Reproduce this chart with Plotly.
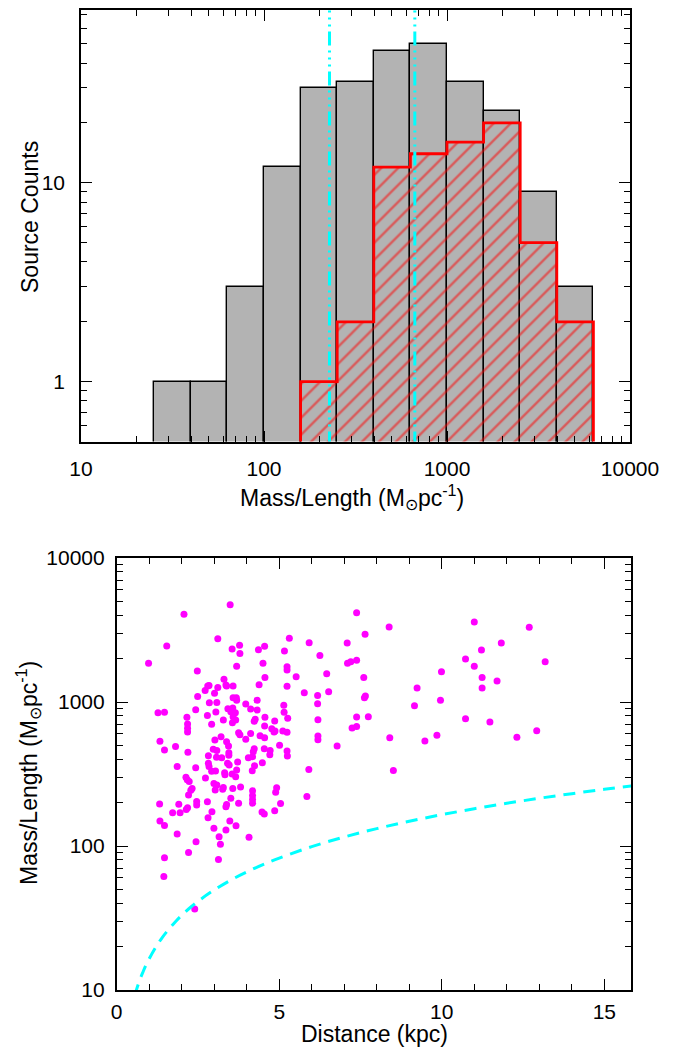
import plotly.graph_objects as go

# ---------------- data: top histogram ----------------
bin_edges = [25.12, 39.81, 63.10, 100.0, 158.5, 251.2, 398.1, 631.0,
             1000.0, 1585.0, 2512.0, 3981.0, 6310.0]
all_counts = [1, 1, 3, 12, 30, 32, 46, 50, 32, 23, 9, 3]
sub_counts = [None, None, None, None, 1, 2, 12, 14, 16, 20, 5, 2]
median_lines = [228, 667]

# ---------------- data: bottom scatter ----------------
dist = [2.07, 3.49, 1.54, 0.98, 3.11, 3.55, 3.78, 3.79, 3.69, 2.48, 4.36, 4.55, 4.50, 4.56, 4.38,
        5.16, 5.31, 5.24, 5.24, 5.52, 5.92, 6.25, 6.46, 6.52, 5.77, 6.18, 6.18, 7.09, 7.10, 7.20,
        7.38, 7.38, 7.64, 7.60, 7.62, 7.65, 8.38, 8.40, 8.51, 7.74, 7.38, 7.38, 7.24, 6.78, 6.19,
        6.19, 6.19, 5.91, 5.85, 5.24,
        2.49, 2.72, 2.80, 2.84, 3.01, 3.11, 3.30, 3.36, 3.38, 3.58, 3.58, 3.68, 3.69, 3.97, 4.12,
        4.32, 2.85, 3.08, 2.43, 1.27, 1.47, 2.16, 2.18, 2.18, 2.18, 2.79, 3.05, 2.92, 3.42, 3.57,
        3.51, 3.65, 3.58, 3.56, 3.66, 3.28, 4.26, 4.23, 4.56, 4.55, 4.32, 4.86, 4.77, 4.87, 4.84,
        5.14, 5.15, 5.26, 5.11, 5.24, 5.01, 5.24, 5.25, 3.75, 3.79, 4.12, 3.97, 4.41, 4.55, 3.21,
        3.38, 3.44, 3.02, 2.97, 3.08, 3.45, 3.45, 4.23, 4.20, 4.54, 4.72, 4.71, 4.05, 4.18, 3.07,
        3.23, 2.82, 2.84, 2.92, 3.04, 3.41, 3.46, 3.72, 3.69, 3.32, 3.33, 3.55, 3.66, 4.24, 4.48,
        4.17, 2.73, 2.43, 2.19, 1.81, 1.47, 1.33, 1.86, 2.13, 2.17, 2.23, 2.32, 2.28, 2.21, 2.46,
        2.46, 2.79, 2.93, 2.81, 2.99, 3.08, 3.03, 3.28, 3.26, 3.57, 3.81, 3.51, 3.38, 3.36, 3.75,
        4.18, 4.18, 4.18, 4.18, 4.92, 4.89, 5.04, 4.86, 4.47, 4.54, 1.32, 1.91, 2.14, 2.18, 1.72,
        1.95, 1.33, 1.47, 2.99, 3.36, 3.48, 3.67, 2.82,
        1.86, 2.44, 2.21, 1.47, 1.45, 2.40, 3.13, 3.19, 3.15, 4.07,
        9.24, 9.16, 9.48, 9.85, 9.96, 9.99, 10.73, 11.00, 11.22, 11.00, 11.24, 11.24, 10.73, 11.48,
        11.70, 11.83, 12.31, 12.69, 12.92, 13.18]
mass = [4060, 4740, 2450, 1860, 2750, 2330, 2480, 2170, 1770, 1640, 2310, 2440, 1860, 1480, 1320,
        2260, 2770, 1760, 1670, 1500, 2580, 2100, 1570, 1180, 1160, 1110, 973, 2570, 1860, 1900,
        1950, 4170, 2950, 1480, 1070, 1100, 3320, 565, 335, 791, 787, 677, 659, 494, 754,
        580, 547, 340, 221, 1285,
        1090, 1200, 1290, 1300, 1150, 1260, 1440, 1310, 1290, 1290, 1070, 1070, 1030, 968, 893,
        1030, 988, 994, 885, 843, 848, 783, 703, 656, 619, 807, 853, 700, 899, 908,
        857, 843, 791, 718, 750, 750, 758, 735, 783, 681, 880, 738, 653, 630, 619,
        948, 848, 771, 630, 616, 500, 457, 422, 612, 593, 605, 551, 583, 565, 574,
        530, 494, 544, 469, 461, 445, 427, 474, 452, 474, 461, 431, 410, 417, 413,
        410, 375, 356, 330, 332, 375, 365, 383, 337, 323, 313, 316, 303, 361, 379,
        333, 297, 350, 447, 490, 465, 533, 357, 300, 289, 281, 251, 244, 226, 204,
        193, 203, 173, 157, 272, 265, 245, 255, 248, 251, 257, 215, 194, 187, 198,
        242, 224, 210, 198, 254, 236, 197, 176, 172, 167, 196, 195, 179, 184, 170,
        170, 149, 139, 133, 129, 149, 138, 424,
        121, 107, 90, 83, 61.5, 36.5, 80.7, 103, 116, 115,
        1250, 943, 536, 587, 1030, 1620, 1990, 3590, 2300, 1770, 1480, 1250, 766, 726,
        1400, 2570, 569, 3300, 632, 1900]

limit_dist = [0.55, 0.6, 0.7, 0.8, 0.9, 1.0, 1.2, 1.4, 1.6, 1.8, 2.0, 2.3, 2.6, 3.0, 3.5,
              4.0, 4.5, 5.0, 6.0, 7.0, 8.0, 9.0, 10.0, 11.0, 12.0, 13.0, 14.0, 15.0, 15.9]
limit_mass = [9.1, 9.9, 11.6, 13.2, 14.9, 16.5, 19.8, 23.1, 26.4, 29.7, 33.0, 38.0, 42.9, 49.5, 57.8,
              66.0, 74.3, 82.5, 99.0, 115.5, 132.0, 148.5, 165.0, 181.5, 198.0, 214.5, 231.0, 247.5, 262.0]

# ---------------- build figure ----------------
FONT = "Liberation Sans, Arial, Helvetica, sans-serif"
W, H = 679, 1048

fig = go.Figure()

lefts = bin_edges[:-1]
widths = [bin_edges[i + 1] - bin_edges[i] for i in range(len(lefts))]

fig.add_trace(go.Bar(x=lefts, y=all_counts, width=widths, offset=0,
                     marker=dict(color="#b3b3b3", line=dict(color="black", width=1.4)),
                     xaxis="x", yaxis="y", showlegend=False))
fig.add_trace(go.Bar(x=lefts, y=sub_counts, width=widths, offset=0,
                     marker=dict(color="rgba(0,0,0,0)", line=dict(width=0),
                                 pattern=dict(shape="/", fgcolor="#ff0000", size=12, solidity=0.2)),
                     xaxis="x", yaxis="y", showlegend=False))

# red step outline of subset histogram
floor = 0.3
idx = [i for i, c in enumerate(sub_counts) if c]
sx = [bin_edges[idx[0]]]
sy = [floor]
for i in idx:
    sx.append(bin_edges[i])
    sy.append(sub_counts[i])
sx.append(bin_edges[idx[-1] + 1]); sy.append(sub_counts[idx[-1]])
sx.append(bin_edges[idx[-1] + 1]); sy.append(floor)
fig.add_trace(go.Scatter(x=sx, y=sy, mode="lines", line=dict(color="red", width=2.8, shape="hv"),
                         xaxis="x", yaxis="y", showlegend=False, hoverinfo="skip"))

for m in median_lines:
    fig.add_trace(go.Scatter(x=[m, m], y=[0.3, 200], mode="lines",
                             line=dict(color="#00ffff", width=3,
                                       dash="14px,5px,2px,5px,2px,5px,2px,5px"),
                             xaxis="x", yaxis="y", showlegend=False, hoverinfo="skip"))

fig.add_trace(go.Scatter(x=dist, y=mass, mode="markers",
                         marker=dict(color="#ff00ff", size=7, line=dict(width=0)),
                         xaxis="x2", yaxis="y2", showlegend=False))
fig.add_trace(go.Scatter(x=limit_dist, y=limit_mass, mode="lines",
                         line=dict(color="#00ffff", width=3, dash="12px,8px", shape="spline"),
                         xaxis="x2", yaxis="y2", showlegend=False))

def minor_log(decades, lo=2, hi=9):
    out = []
    for d in decades:
        for k in range(lo, hi + 1):
            out.append(k * d)
    return out

axis_common = dict(showline=True, linecolor="black", linewidth=1.6, mirror="ticks",
                   ticks="inside", tickcolor="black", tickwidth=1.4, ticklen=11,
                   showgrid=False, zeroline=False, automargin=False,
                   tickfont=dict(family=FONT, size=21, color="black"))
minor_common = dict(ticks="inside", ticklen=6, tickwidth=1.2, tickcolor="black", showgrid=False)

fig.update_layout(
    width=W, height=H, margin=dict(l=0, r=0, t=0, b=0),
    paper_bgcolor="white", plot_bgcolor="white", barmode="overlay", bargap=0,
    xaxis=dict(**axis_common, type="log", range=[1, 4],
               domain=[81 / W, 630 / W], anchor="y",
               tickmode="array", tickvals=[10, 100, 1000, 10000],
               ticktext=["10", "100", "1000", "10000"], ticklabelstandoff=7,
               minor=dict(**minor_common, tickmode="array",
                          tickvals=minor_log([10, 100, 1000]))),
    yaxis=dict(**axis_common, type="log", range=[-0.30103, 1.869],
               domain=[1 - 441.5 / H, 1 - 10 / H], anchor="x",
               tickmode="array", tickvals=[1, 10], ticktext=["1", "10"], ticklabelstandoff=10,
               minor=dict(**minor_common, tickmode="array",
                          tickvals=[0.5, 0.6, 0.7, 0.8, 0.9] + minor_log([1, 10], 2, 9))),
    xaxis2=dict(**axis_common, type="linear", range=[0, 15.82],
                domain=[116.7 / W, 631 / W], anchor="y2",
                tickmode="array", tickvals=[0, 5, 10, 15], ticktext=["0", "5", "10", "15"],
                ticklabelstandoff=2,
                minor=dict(**minor_common, tickmode="linear", tick0=0, dtick=1)),
    yaxis2=dict(**axis_common, type="log", range=[1, 4],
                domain=[1 - 990 / H, 1 - 558 / H], anchor="x2",
                tickmode="array", tickvals=[10, 100, 1000, 10000],
                ticktext=["10", "100", "1000", "10000"], ticklabelstandoff=6,
                minor=dict(**minor_common, tickmode="array",
                           tickvals=minor_log([10, 100, 1000]))),
)

title_font = dict(family=FONT, size=23, color="black")
ml_title = "Mass/Length (M<sub>\u2299</sub>pc<sup>-1</sup>)"
fig.add_annotation(text="Source Counts", x=30 / W, y=1 - 217 / H, xref="paper", yref="paper",
                   textangle=-90, showarrow=False, font=title_font, xanchor="center", yanchor="middle")
fig.add_annotation(text=ml_title, x=352 / W, y=1 - 497 / H, xref="paper", yref="paper",
                   showarrow=False, font=title_font, xanchor="center", yanchor="middle")
fig.add_annotation(text="Distance (kpc)", x=374 / W, y=1 - 1034 / H, xref="paper", yref="paper",
                   showarrow=False, font=title_font, xanchor="center", yanchor="middle")
fig.add_annotation(text=ml_title, x=28 / W, y=1 - 773 / H, xref="paper", yref="paper",
                   textangle=-90, showarrow=False, font=title_font, xanchor="center", yanchor="middle")

fig.write_html("out.html")
